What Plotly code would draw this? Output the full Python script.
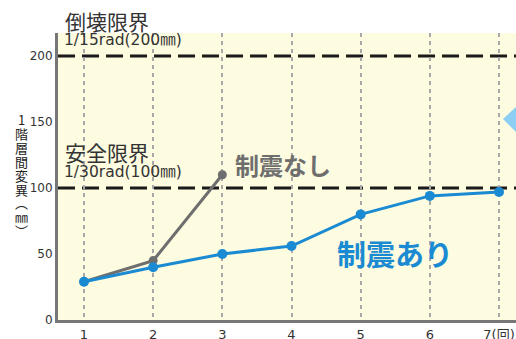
import plotly.graph_objects as go

# ---- data ----
rounds = [1, 2, 3, 4, 5, 6, 7]
x_tick_labels = ["1", "2", "3", "4", "5", "6", "7(回)"]
with_damper = [29, 40, 50, 56, 80, 94, 97]          # 制震あり
without_rounds = [1, 2, 3]
without_damper = [29, 45, 110]                      # 制震なし
y_ticks = [0, 50, 100, 150, 200]
limit_values = [200, 100]                           # 倒壊限界, 安全限界
y_title_chars = ["1", "階", "層", "間", "変", "異", "︵", "㎜", "︶"]

FONT = "Noto Sans CJK JP"
NUMFONT = "DejaVu Sans, Noto Sans CJK JP"
BLUE = "#1a8bd2"
GRAY = "#6e6e6e"
TXT = "#333333"

# plot area in px: left 58, right 516, top 33, bottom 320
L, R, T, B = 58, 516, 33, 320
W, H = R - L, B - T
def px(x):
    return (x - L) / W
def py(y):
    return (B - y) / H

fig = go.Figure()

fig.add_trace(go.Scatter(
    x=without_rounds, y=without_damper, mode="lines+markers",
    line=dict(color=GRAY, width=3), marker=dict(color=GRAY, size=9),
    hoverinfo="skip", showlegend=False))
fig.add_trace(go.Scatter(
    x=rounds, y=with_damper, mode="lines+markers",
    line=dict(color=BLUE, width=3), marker=dict(color=BLUE, size=10),
    hoverinfo="skip", showlegend=False))

for v in limit_values:
    fig.add_shape(type="line", xref="paper", x0=0, x1=1, yref="y", y0=v, y1=v,
                  line=dict(color="#1a1a1a", width=3, dash="17px,7px"),
                  layer="between")

# decorative blue arrow tip at right edge
fig.add_shape(type="path", xref="paper", yref="paper",
              path=f"M {px(503)} {py(119)} L {px(517)} {py(106)} L {px(517)} {py(133)} Z",
              fillcolor="#8dcff3", line=dict(width=0), layer="above")

ann = [
    ("倒壊限界", px(63), py(21), 21, TXT, FONT),
    ("1/15rad(200㎜)", px(62), py(40), 15.5, TXT, NUMFONT),
    ("安全限界", px(63), py(152), 21, TXT, FONT),
    ("1/30rad(100㎜)", px(62), py(172), 15.5, TXT, NUMFONT),
    ("<b>制震なし</b>", px(233), py(164), 24, GRAY, FONT),
    ("<b>制震あり</b>", px(335), py(253), 29, BLUE, FONT),
]
for text, x, y, size, color, fam in ann:
    fig.add_annotation(text=text, x=x, y=y, xref="paper", yref="paper",
                       xanchor="left", yanchor="middle", showarrow=False,
                       font=dict(family=fam, size=size, color=color))

# vertical y-axis title, one character per line
for i, ch in enumerate(y_title_chars):
    fig.add_annotation(text=ch, x=px(21), y=py(120 + 13.8 * i), xref="paper", yref="paper",
                       xanchor="center", yanchor="middle", showarrow=False,
                       font=dict(family=FONT, size=13, color="#222222"))

fig.update_layout(
    width=516, height=339,
    margin=dict(l=L, r=516 - R, t=T, b=339 - B, autoexpand=False),
    paper_bgcolor="white", plot_bgcolor="#fdfbe0",
    font=dict(family=NUMFONT, color=TXT, size=13),
    xaxis=dict(range=[0.624, 7.246], tickvals=rounds, ticktext=x_tick_labels,
               showgrid=True, gridcolor="#a8a8a8", gridwidth=2, griddash="4px,4px",
               zeroline=False, showline=True, linecolor="#777777", linewidth=3,
               ticks="", tickfont=dict(size=13, color=TXT), fixedrange=True,
               automargin=False),
    yaxis=dict(range=[0, 217.4], tickvals=y_ticks,
               showgrid=False, zeroline=False, showline=True,
               linecolor="#777777", linewidth=3, ticks="",
               tickfont=dict(size=12, color=TXT), fixedrange=True,
               automargin=False),
)

fig.write_html("out.html", config={"displayModeBar": False},
               post_script="document.body.style.margin='0px';document.body.style.overflow='hidden';")
